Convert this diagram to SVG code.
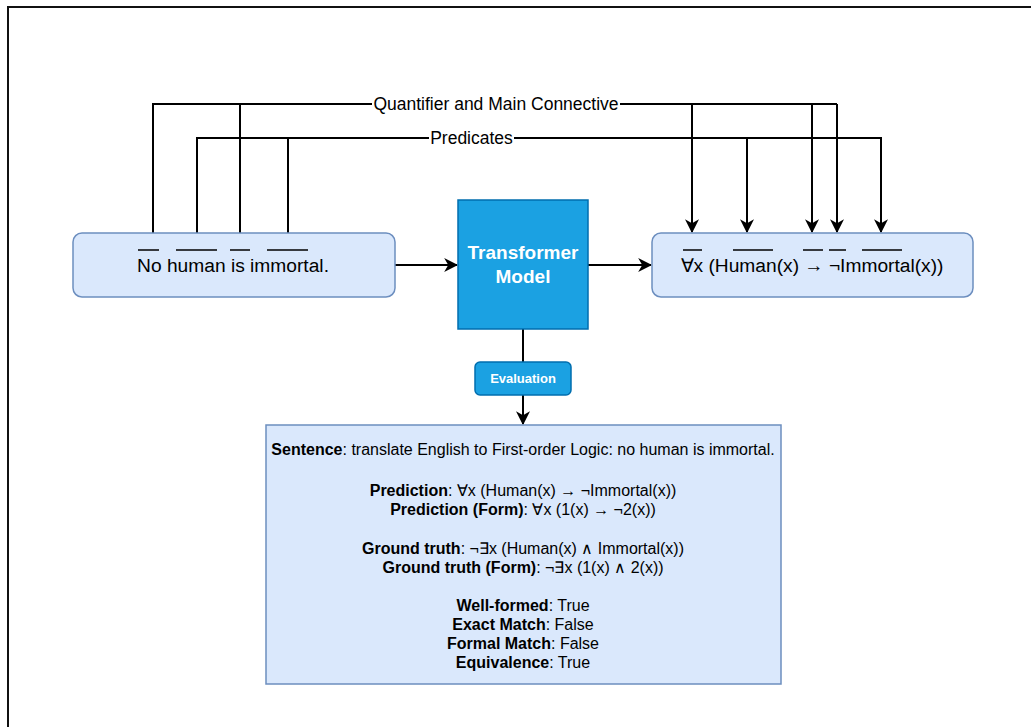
<svg xmlns="http://www.w3.org/2000/svg" width="1031" height="727" viewBox="0 0 1031 727">
  <defs>
    <marker id="arrowBig" viewBox="0 0 12 12" refX="11" refY="6" markerWidth="14" markerHeight="14" markerUnits="userSpaceOnUse" orient="auto">
      <path d="M0,0 L12,6 L0,12 L3.5,6 Z" fill="#000"/>
    </marker>
    <style>
      .frame { fill: none; stroke: #111; stroke-width: 2; }
      .light { fill: #dae8fc; stroke: #6c8ebf; stroke-width: 1.5; }
      .blue { fill: #1ba1e2; stroke: #006eaf; stroke-width: 1.5; }
      .edge { fill: none; stroke: #000; stroke-width: 2; }
      .ov { stroke: #000; stroke-width: 1.5; }
      .t { font-family: "Liberation Sans", Arial, sans-serif; fill: #000; }
      .w { font-family: "Liberation Sans", Arial, sans-serif; fill: #fff; font-weight: bold; }
      .b { font-weight: bold; }
    </style>
  </defs>

  <rect width="1031" height="727" fill="#fff"/>
  <!-- outer frame edges -->
  <path class="frame" d="M8,727 L8,7 L1031,7"/>

  <!-- connectors -->
  <g id="connectors">
    <!-- quantifier / main connective routing -->
    <path class="edge" d="M153,233 L153,104 L837,104"/>
    <path class="edge" d="M240,233 L240,104"/>
    <path class="edge" d="M692,104 L692,232" marker-end="url(#arrowBig)"/>
    <path class="edge" d="M812,104 L812,232" marker-end="url(#arrowBig)"/>
    <path class="edge" d="M837,104 L837,232" marker-end="url(#arrowBig)"/>
    <!-- predicate routing -->
    <path class="edge" d="M197,233 L197,138 L881,138 L881,232" marker-end="url(#arrowBig)"/>
    <path class="edge" d="M288,233 L288,138"/>
    <path class="edge" d="M747,138 L747,232" marker-end="url(#arrowBig)"/>
    <!-- labels on the routing lines -->
    <rect x="372" y="94" width="248" height="20" fill="#fff"/>
    <text class="t" x="496" y="110" font-size="17.5" text-anchor="middle">Quantifier and Main Connective</text>
    <rect x="429" y="128" width="85" height="20" fill="#fff"/>
    <text class="t" x="471.5" y="144" font-size="17.5" text-anchor="middle">Predicates</text>
    <!-- main flow -->
    <path class="edge" d="M395,265 L457,265" marker-end="url(#arrowBig)"/>
    <path class="edge" d="M588,265 L651,265" marker-end="url(#arrowBig)"/>
    <path class="edge" d="M523,329 L523,362"/>
    <path class="edge" d="M523,395 L523,424" marker-end="url(#arrowBig)"/>
  </g>

  <!-- source sentence -->
  <g id="node-input">
    <rect class="light" x="73" y="233" width="322" height="64" rx="9"/>
    <line class="ov" x1="138" y1="250" x2="159" y2="250"/>
    <line class="ov" x1="176" y1="250" x2="217" y2="250"/>
    <line class="ov" x1="230" y1="250" x2="250" y2="250"/>
    <line class="ov" x1="267" y1="250" x2="308" y2="250"/>
    <text class="t" x="233" y="272" font-size="19.2" text-anchor="middle">No human is immortal.</text>
  </g>

  <!-- model -->
  <g id="node-model">
    <rect class="blue" x="458" y="200" width="130" height="129"/>
    <text class="w" x="523" y="259" font-size="19" text-anchor="middle">Transformer</text>
    <text class="w" x="523" y="283" font-size="19" text-anchor="middle">Model</text>
  </g>

  <!-- logical form output -->
  <g id="node-output">
    <rect class="light" x="652" y="233" width="321" height="64" rx="9"/>
    <line class="ov" x1="683" y1="250" x2="702" y2="250"/>
    <line class="ov" x1="733" y1="250" x2="773" y2="250"/>
    <line class="ov" x1="803" y1="250" x2="823" y2="250"/>
    <line class="ov" x1="829" y1="250" x2="846" y2="250"/>
    <line class="ov" x1="862" y1="250" x2="902" y2="250"/>
    <text class="t" x="812" y="272" font-size="19.2" text-anchor="middle">∀x (Human(x) → ¬Immortal(x))</text>
  </g>

  <!-- evaluation tag -->
  <g id="node-evaluation">
    <rect class="blue" x="475" y="362" width="96" height="33" rx="5"/>
    <text class="w" x="523" y="383" font-size="13" text-anchor="middle">Evaluation</text>
  </g>

  <!-- evaluation details -->
  <g id="node-details">
    <rect class="light" x="266" y="425" width="515" height="259"/>
    <g class="t" font-size="16" text-anchor="middle">
      <text x="523" y="455"><tspan class="b">Sentence</tspan>: translate English to First-order Logic: no human is immortal.</text>
      <text x="523" y="496"><tspan class="b">Prediction</tspan>: ∀x (Human(x) → ¬Immortal(x))</text>
      <text x="523" y="515"><tspan class="b">Prediction (Form)</tspan>: ∀x (1(x) → ¬2(x))</text>
      <text x="523" y="554"><tspan class="b">Ground truth</tspan>: ¬∃x (Human(x) ∧ Immortal(x))</text>
      <text x="523" y="573"><tspan class="b">Ground truth (Form)</tspan>: ¬∃x (1(x) ∧ 2(x))</text>
      <text x="523" y="611"><tspan class="b">Well-formed</tspan>: True</text>
      <text x="523" y="630"><tspan class="b">Exact Match</tspan>: False</text>
      <text x="523" y="649"><tspan class="b">Formal Match</tspan>: False</text>
      <text x="523" y="668"><tspan class="b">Equivalence</tspan>: True</text>
    </g>
  </g>
</svg>
